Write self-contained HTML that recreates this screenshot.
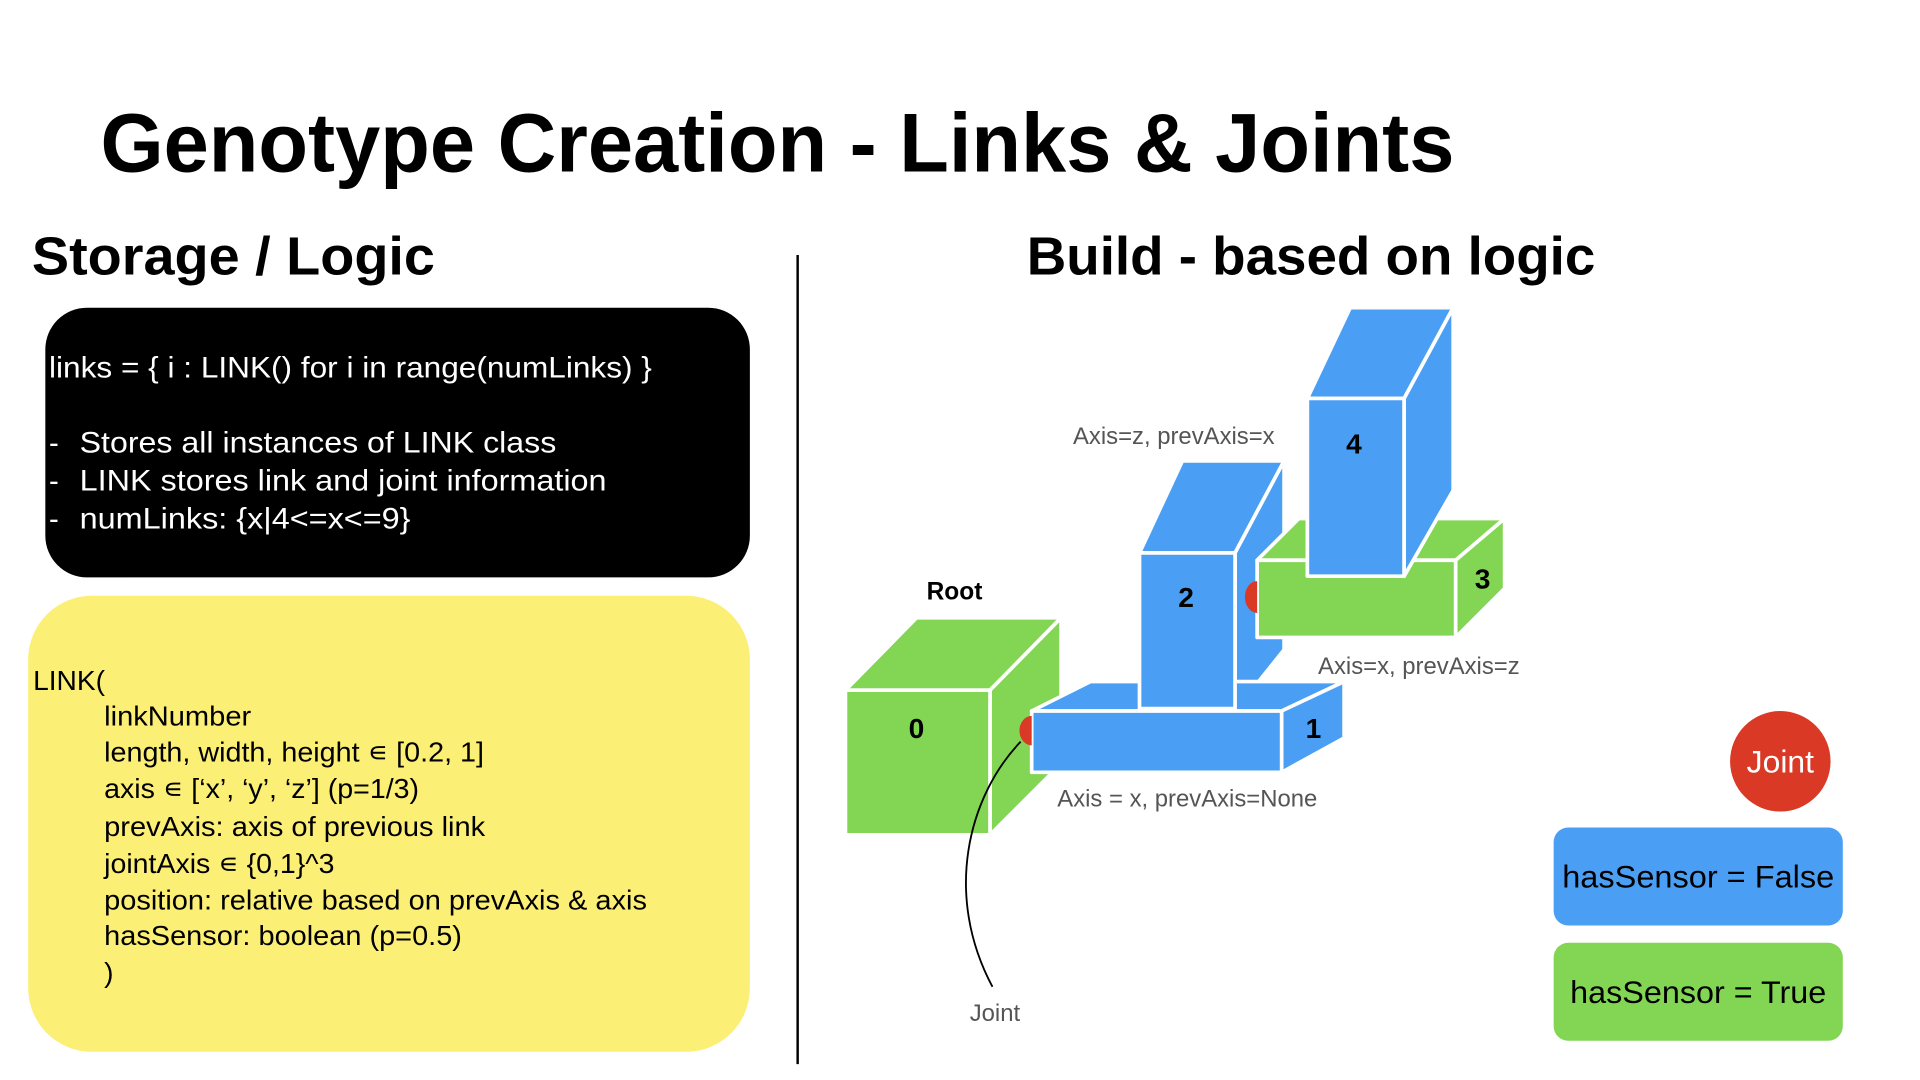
<!DOCTYPE html>
<html><head><meta charset="utf-8"><style>
html,body{margin:0;padding:0;background:#fff;width:1920px;height:1080px;overflow:hidden}
svg{display:block}
text{font-family:"Liberation Sans",Arial,sans-serif}
</style></head><body>
<svg width="1920" height="1080" viewBox="0 0 1567 881" preserveAspectRatio="none" xmlns="http://www.w3.org/2000/svg">
<rect width="1567" height="881" fill="#fff"/>
<text x="82" y="140" font-size="68" font-weight="bold" textLength="1105" lengthAdjust="spacingAndGlyphs">Genotype Creation - Links &amp; Joints</text>
<text x="26" y="224" font-size="44" font-weight="bold" textLength="329" lengthAdjust="spacingAndGlyphs">Storage / Logic</text>
<text x="838" y="224" font-size="44" font-weight="bold" textLength="464" lengthAdjust="spacingAndGlyphs">Build - based on logic</text>
<line x1="651" y1="208" x2="651" y2="868" stroke="#000" stroke-width="2"/>

<rect x="37" y="251" width="575" height="220" rx="34" fill="#000"/>
<g fill="#fff" font-size="24">
<text x="40" y="308" textLength="492" lengthAdjust="spacingAndGlyphs">links = { i : LINK() for i in range(numLinks) }</text>
<text x="40" y="369">-</text><text x="65" y="369" textLength="389" lengthAdjust="spacingAndGlyphs">Stores all instances of LINK class</text>
<text x="40" y="400">-</text><text x="65" y="400" textLength="430" lengthAdjust="spacingAndGlyphs">LINK stores link and joint information</text>
<text x="40" y="431">-</text><text x="65" y="431" textLength="270" lengthAdjust="spacingAndGlyphs">numLinks: {x|4&lt;=x&lt;=9}</text>
</g>
<rect x="23" y="486" width="589" height="372" rx="52" fill="#fbef76"/>
<g fill="#000" font-size="23">
<text x="27" y="563">LINK(</text>
<text x="85" y="592" textLength="120" lengthAdjust="spacingAndGlyphs">linkNumber</text>
<text x="85" y="621" textLength="310" lengthAdjust="spacingAndGlyphs">length, width, height ∊ [0.2, 1]</text>
<text x="85" y="651" textLength="257" lengthAdjust="spacingAndGlyphs">axis ∊ [‘x’, ‘y’, ‘z’] (p=1/3)</text>
<text x="85" y="682" textLength="311" lengthAdjust="spacingAndGlyphs">prevAxis: axis of previous link</text>
<text x="85" y="712" textLength="188" lengthAdjust="spacingAndGlyphs">jointAxis ∊ {0,1}^3</text>
<text x="85" y="742" textLength="443" lengthAdjust="spacingAndGlyphs">position: relative based on prevAxis &amp; axis</text>
<text x="85" y="771" textLength="292" lengthAdjust="spacingAndGlyphs">hasSensor: boolean (p=0.5)</text>
<text x="85" y="801">)</text>
</g>

<g stroke="#fff" stroke-width="3" stroke-linejoin="round">
<polygon points="690,563 748,504 866,504 808,563" fill="#82d654"/>
<polygon points="808,563 866,504 866,623 808,681" fill="#82d654"/>
<rect x="690" y="563" width="118" height="118" fill="#82d654"/>
<polygon points="930,451 965,376 1048,376 1008,451" fill="#4a9ff5"/>
<polygon points="1008,451 1048,376 1048,530 1008,580" fill="#4a9ff5"/>
<polygon points="842,580 890,556 1097,556 1046,580" fill="#4a9ff5"/>
<polygon points="1046,580 1097,556 1097,602 1046,630" fill="#4a9ff5"/>
<rect x="842" y="580" width="204" height="50" fill="#4a9ff5"/>
<rect x="930" y="451" width="78" height="127" fill="#4a9ff5"/>
<polygon points="1026,457 1060,423 1228,423 1188,457" fill="#82d654"/>
<polygon points="1188,457 1228,423 1228,480 1188,520" fill="#82d654"/>
<rect x="1026" y="457" width="162" height="63" fill="#82d654"/>
</g>
<circle cx="1145" cy="437" r="9" fill="#da3a25"/>
<g stroke="#fff" stroke-width="3" stroke-linejoin="round">
<polygon points="1067,325 1102,251 1186,251 1146,325" fill="#4a9ff5"/>
<polygon points="1146,325 1186,251 1186,400 1146,470" fill="#4a9ff5"/>
<rect x="1067" y="325" width="79" height="145" fill="#4a9ff5"/>
</g>
<path d="M842,584 A10,12 0 0 0 842,608 Z" fill="#da3a25"/>
<path d="M1026,474 A10,13 0 0 0 1026,500 Z" fill="#da3a25"/>
<line x1="1146" y1="326" x2="1146" y2="469" stroke="#fff" stroke-width="3"/>

<g font-size="23" font-weight="bold" text-anchor="middle" fill="#000">
<text x="748" y="602">0</text>
<text x="1072" y="602">1</text>
<text x="968" y="495">2</text>
<text x="1210" y="480">3</text>
<text x="1105" y="370">4</text>
<text x="779" y="489" font-size="20">Root</text>
</g>
<g font-size="19.5" fill="#555" text-anchor="middle">
<text x="958" y="362">Axis=z, prevAxis=x</text>
<text x="1158" y="550">Axis=x, prevAxis=z</text>
<text x="969" y="658">Axis = x, prevAxis=None</text>
<text x="812" y="833">Joint</text>
</g>
<path d="M833,605 C790,650 770,730 810,805" fill="none" stroke="#000" stroke-width="1.5"/>

<circle cx="1453" cy="621" r="41" fill="#da3a25"/>
<text x="1453" y="630" font-size="26" fill="#fff" text-anchor="middle">Joint</text>
<rect x="1268" y="675" width="236" height="80" rx="12" fill="#4a9ff5"/>
<text x="1386" y="724" font-size="26" text-anchor="middle" textLength="222" lengthAdjust="spacingAndGlyphs">hasSensor = False</text>
<rect x="1268" y="769" width="236" height="80" rx="12" fill="#82d654"/>
<text x="1386" y="818" font-size="26" text-anchor="middle" textLength="209" lengthAdjust="spacingAndGlyphs">hasSensor = True</text>
</svg>
</body></html>
